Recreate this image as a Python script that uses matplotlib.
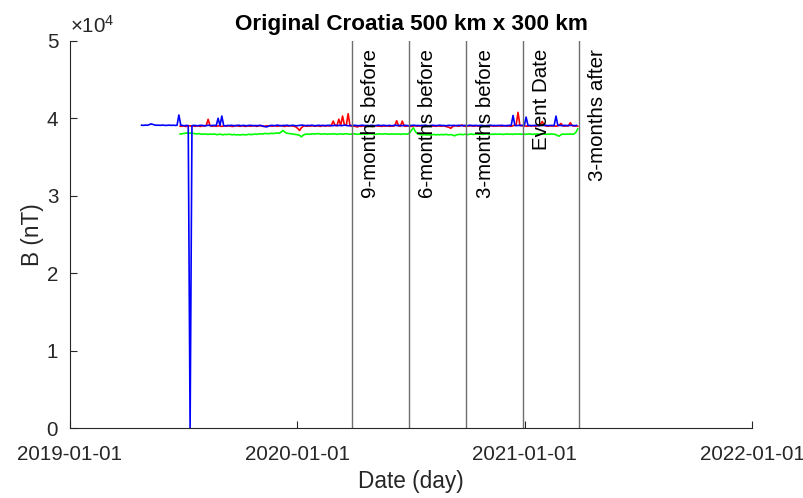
import numpy as np
import pandas as pd
import matplotlib
matplotlib.use("Agg")
import matplotlib.pyplot as plt
import matplotlib.dates as mdates
from matplotlib.ticker import FixedLocator, FuncFormatter

plt.rcParams["font.family"] = ["Liberation Sans", "DejaVu Sans"]
plt.rcParams["mathtext.fontset"] = "custom"
plt.rcParams["mathtext.rm"] = "Liberation Sans"
plt.rcParams["mathtext.it"] = "Liberation Sans"

STEP_DAYS = 3

# blue component, every 3 days from 2019-04-26
blue_start = "2019-04-26"
blue_vals = [
    39120, 39100, 39140, 39110, 39180, 39290, 39230, 39150, 39110, 39130,
    39100, 39140, 39120, 39090, 39110, 39130, 39100, 39120, 39090, 39110,
    40440, 39120, 39080, 39050, 39100, 39070, 0, 39060, 39100, 39080,
    39050, 39090, 39110, 39070, 39040, 39080, 39120, 39060, 39090, 39100,
    39070, 40020, 39080, 40310, 39060, 39040, 39090, 39070, 39110, 39080,
    39050, 39090, 39120, 39060, 39080, 39100, 39040, 39070, 39110, 39090,
    39060, 39080, 39050, 39100, 39070, 39020, 38950, 38900, 39000, 39080,
    39100, 39060, 39090, 39130, 39070, 39050, 39100, 39080, 39120, 39060,
    39090, 39110, 39070, 39040, 39080, 39100, 39140, 39090, 39060, 39100,
    39070, 39120, 39080, 39050, 39090, 39110, 39070, 39100, 39060, 39080,
    39110, 39090, 39050, 39080, 39120, 39070, 39100, 39060, 39090, 39130,
    39080, 39050, 39100, 39070, 39110, 39090, 39060, 39080, 39120, 39100,
    39070, 39090, 39050, 39110, 39080, 39060, 39100, 39130, 39070, 39090,
    39110, 39060, 39080, 39100, 39050, 39090, 39120, 39070, 39100, 39080,
    39060, 39110, 39090, 39050, 39080, 39100, 39120, 39070, 39090, 39060,
    39100, 39080, 39130, 39070, 39050, 39090, 39110, 39080, 39060, 39100,
    39120, 39070, 39090, 39050, 39080, 39110, 39060, 39100, 39090, 39070,
    39110, 39080, 39060, 39100, 39050, 39090, 39120, 39070, 39080, 39100,
    39060, 39090, 39110, 39070, 39050, 39080, 39100, 39120, 39070, 39090,
    39060, 39100, 39080, 39110, 39070, 39050, 39090, 39100, 39080, 40380,
    39090, 39060, 39100, 39080, 39110, 39070, 40170, 39080, 39100, 39060,
    39090, 39110, 39070, 39050, 39100, 39080, 39120, 39090, 39060, 39100,
    39080, 39070, 40300, 39090, 39110, 39060, 39080, 39100, 39070, 39090,
    39110, 39080, 39060, 39100,
]

# red and green components, every 3 days from 2019-06-27
rg_start = "2019-06-27"
red_vals = [
    39000, 38980, 39050, 38950, 39020, 39060, 38990, 39030, 38970, 39040,
    39010, 38960, 39050, 39020, 39100, 39880, 39060, 38990, 39030, 38980,
    39020, 39050, 38970, 39010, 39040, 38990, 39060, 39000, 38950, 39030,
    39070, 39010, 38980, 39040, 39020, 38960, 39050, 39010, 38990, 39060,
    39030, 38970, 39020, 39080, 39000, 38950, 39040, 39010, 39060, 38990,
    39020, 39050, 38980, 39030, 39070, 39010, 38960, 39040, 39000, 39050,
    39020, 38990, 38900, 38700, 38450, 38800, 39000, 39050, 38980, 39030,
    39010, 39060, 38990, 39020, 39040, 38970, 39030, 39080, 39000, 39050,
    39020, 39100, 39650, 39080, 39050, 39900, 39100, 40300, 39150, 39100,
    40600, 39050, 38980, 39010, 38950, 38900, 39000, 38970, 39030, 39010,
    38980, 39040, 39000, 38960, 39020, 39050, 38990, 39010, 38970, 39030,
    39000, 39040, 38980, 39020, 39010, 39060, 39700, 39030, 39000, 39650,
    39010, 38980, 39040, 39000, 38960, 39020, 39050, 38990, 39030, 39000,
    39050, 38970, 39020, 39010, 39060, 38990, 39030, 38980, 39040, 39010,
    39000, 39050, 38980, 38900, 38850, 38720, 38950, 39020, 39060, 38990,
    39030, 39150, 39000, 38980, 39040, 39010, 39060, 38990, 39020, 39050,
    39000, 38970, 39030, 39010, 39060, 38990, 39020, 39040, 38980, 39030,
    39010, 39050, 38990, 39020, 39060, 39000, 39030, 38980, 39040, 39100,
    39150, 40780, 39100, 39050, 39000, 39030, 38990, 39040, 39010, 39060,
    39000, 39030, 39080, 39250, 39600, 39100, 39020, 38990, 39040, 39010,
    39050, 38990, 39020, 39100, 39350, 39030, 39000, 39050, 39020, 39450,
    39060, 39000, 39030, 38990,
]
green_vals = [
    37980, 38020, 38060, 38100, 38130, 38080, 38120, 38060, 38020, 37990,
    38040, 37980, 37950, 38000, 37970, 37930, 37980, 37950, 37990, 37940,
    37900, 37960, 37930, 37880, 37940, 37910, 37960, 37920, 37880, 37930,
    37870, 37900, 37860, 37890, 37920, 37870, 37910, 37950, 37900, 37940,
    37980, 37940, 37990, 38020, 37980, 38030, 38060, 38010, 38050, 38080,
    38040, 38090, 38120, 38080, 38200, 38450, 38250, 38100, 38060, 38020,
    38000, 37960, 37930, 37880, 37800, 37620, 37850, 37940, 37980, 37950,
    37990, 38020, 37970, 38000, 38040, 37990, 37960, 38010, 37980, 37950,
    38000, 37970, 38020, 37990, 37940, 37980, 38010, 37960, 37990, 38030,
    37980, 37950, 37990, 38020, 37970, 37940, 37990, 37960, 38010, 37980,
    37950, 37990, 38020, 37970, 38000, 37950, 37980, 38010, 37960, 37990,
    38020, 37980, 37950, 37990, 37970, 38000, 37960, 37990, 37940, 37980,
    38000, 37960, 37990, 38150, 38500, 38780, 38300, 38050, 37950, 37900,
    37880, 37920, 37860, 37900, 37850, 37890, 37930, 37870, 37910, 37880,
    37920, 37880, 37940, 37900, 37870, 37910, 37850, 37750, 37880, 37920,
    37950, 37900, 37930, 37960, 37910, 37940, 37980, 37930, 37960, 37990,
    37950, 37980, 37940, 37970, 38000, 37960, 37930, 37970, 37940, 37980,
    37950, 37990, 37960, 37930, 37970, 38000, 37950, 37980, 37940, 37970,
    38000, 37960, 37990, 37950, 37980, 37940, 37970, 38000, 37960, 37930,
    37970, 37990, 37950, 37980, 38010, 37960, 37940, 37980, 37950, 37990,
    37960, 37930, 37800, 37700, 37900, 37970, 37940, 37980, 37960, 37990,
    37950, 37980, 38200, 38650,
]

event_date = pd.Timestamp("2020-12-29")
marker_labels = ["9-months before", "6-months before", "3-months before",
                 "Event Date", "3-months after"]
marker_offsets = [-9, -6, -3, 0, 3]

x_ticks = ["2019-01-01", "2020-01-01", "2021-01-01", "2022-01-01"]
y_ticks = [0, 10000, 20000, 30000, 40000, 50000]

blue_dates = pd.date_range(blue_start, periods=len(blue_vals), freq=f"{STEP_DAYS}D")
rg_dates = pd.date_range(rg_start, periods=len(red_vals), freq=f"{STEP_DAYS}D")

fig = plt.figure(figsize=(8.04, 4.98), dpi=100)
ax = fig.add_axes([70 / 804, 70 / 498, 682 / 804, 387 / 498])

ax.plot(rg_dates, red_vals, color="#ff0000", lw=1.2)
ax.plot(rg_dates, green_vals, color="#00ff00", lw=1.2)
ax.plot(blue_dates, blue_vals, color="#0000ff", lw=1.2)

for off, lab in zip(marker_offsets, marker_labels):
    d = event_date + pd.DateOffset(months=off)
    ax.axvline(d, color="#6e6e6e", lw=1.0)
    ax.text(d + pd.Timedelta(days=30), 0.979, lab, rotation=90,
            ha="center", va="top", fontsize=14.8,
            transform=ax.get_xaxis_transform())

ax.set_xlim(pd.Timestamp(x_ticks[0]), pd.Timestamp(x_ticks[-1]))
ax.set_ylim(0, 50000)
ax.xaxis.set_major_locator(FixedLocator([mdates.date2num(pd.Timestamp(t)) for t in x_ticks]))
ax.set_xticklabels(x_ticks)
ax.yaxis.set_major_locator(FixedLocator(y_ticks))
ax.yaxis.set_major_formatter(FuncFormatter(lambda v, p: f"{v / 1e4:g}"))

for side in ["top", "right"]:
    ax.spines[side].set_visible(False)
for side in ["left", "bottom"]:
    ax.spines[side].set_color("#262626")
    ax.spines[side].set_linewidth(0.8)
ax.tick_params(direction="in", length=5, width=0.8, colors="#262626",
               labelsize=14.8)
ax.tick_params(axis="x", pad=12.5)
ax.tick_params(axis="y", pad=8.5)

ax.text(0.0, 1.012, r"$\times10^{4}$", transform=ax.transAxes,
        ha="left", va="bottom", fontsize=14.8, color="#262626")

ax.set_title("Original Croatia 500 km x 300 km", fontsize=16.2,
             fontweight="bold", pad=8)
ax.set_xlabel("Date (day)", fontsize=16.3, color="#262626", labelpad=4)
ax.set_ylabel("B (nT)", fontsize=16.3, color="#262626", labelpad=2)

fig.savefig("out.png", dpi=100)
